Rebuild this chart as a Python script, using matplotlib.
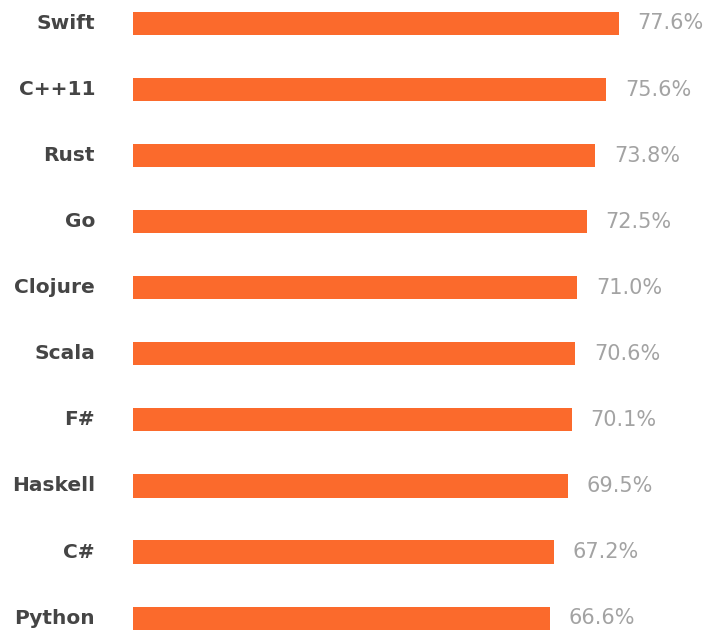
import matplotlib
matplotlib.use('Agg')
import matplotlib.pyplot as plt

# ---- Data ------------------------------------------------------------
languages = ['Swift', 'C++11', 'Rust', 'Go', 'Clojure',
             'Scala', 'F#', 'Haskell', 'C#', 'Python']
loved_pct = [77.6, 75.6, 73.8, 72.5, 71.0, 70.6, 70.1, 69.5, 67.2, 66.6]

BAR_COLOR   = '#fb6a2c'
LABEL_COLOR = '#454545'
VALUE_COLOR = '#a3a3a3'

fig = plt.figure(figsize=(7.10, 6.32), dpi=100)
ax = fig.add_axes([133 / 710, 0.0, 1 - 133 / 710, 1.0])

ypos = list(range(len(languages)))
ax.barh(ypos, loved_pct, height=0.35, color=BAR_COLOR, edgecolor='none')

for y, v in zip(ypos, loved_pct):
    ax.annotate(f'{v:.1f}%', xy=(v, y), xytext=(19, 0),
                textcoords='offset pixels', ha='left', va='center',
                fontsize=15, color=VALUE_COLOR)
    ax.annotate(languages[y], xy=(0, y), xytext=(-38, 0),
                textcoords='offset pixels', ha='right', va='center',
                fontsize=14.5, fontweight='bold', color=LABEL_COLOR,
                annotation_clip=False)

ax.set_xlim(0, 92.2)
ax.set_ylim(9.21, -0.355)
ax.axis('off')

fig.savefig('out.png', dpi=100)
